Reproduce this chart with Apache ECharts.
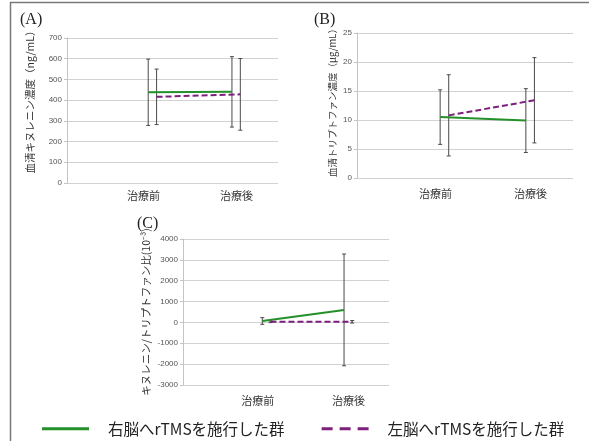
<!DOCTYPE html>
<html><head><meta charset="utf-8">
<script src="https://cdn.jsdelivr.net/npm/echarts@6/dist/echarts.min.js"></script>
<style>html,body{margin:0;padding:0;background:#fff}#c{width:589px;height:441px}</style>
</head><body><div id="c"></div>
<script>
// ---- data ----
const categories = ['治療前', '治療後'];
const seriesNames = ['右脳へrTMSを施行した群', '左脳へrTMSを施行した群'];
// (A) 血清キヌレニン濃度 (ng/mL)
const kynRightMean = [438, 440];
const kynRightSD   = [160, 170];
const kynLeftMean  = [416, 428];
const kynLeftSD    = [134, 173];
// (B) 血清トリプトファン濃度 (μg/mL)
const trpRightMean = [10.5, 9.9];
const trpRightSD   = [4.7, 5.5];
const trpLeftMean  = [10.8, 13.4];
const trpLeftSD    = [7.0, 7.35];
// (C) キヌレニン/トリプトファン比 (10^-3)
const ratioRightMean = [70, 600];
const ratioRightSD   = [160, 2680];
const ratioLeftMean  = [30, 30];
const ratioLeftSD    = [40, 60];
// axis ticks
const yAxisA = {min: 0, max: 700, interval: 100};
const yAxisB = {min: 0, max: 25, interval: 5};
const yAxisC = {min: -3000, max: 4000, interval: 1000};

// ---- styling ----
const GREEN = '#24902a';
const PURPLE = '#7d1f7d';
const LEFT_OFFSET = 0.1;     // horizontal shift of second group's markers
const LABEL_SPREAD = 0.055;  // category label spread
const CJK = 'Noto Sans CJK JP';

function pts(mean, off) { return mean.map((v, i) => [i + 1 + off, v]); }
function errs(mean, sd, off) { return mean.map((v, i) => [i + 1 + off, v - sd[i], v + sd[i]]); }

function errRender(params, api) {
  const x = api.value(0), lo = api.value(1), hi = api.value(2);
  const p1 = api.coord([x, hi]), p2 = api.coord([x, lo]);
  const w = 2;
  const st = {stroke: '#4a4a4a', lineWidth: 1};
  return {type: 'group', children: [
    {type: 'line', shape: {x1: p1[0], y1: p1[1], x2: p2[0], y2: p2[1]}, style: st},
    {type: 'line', shape: {x1: p1[0] - w, y1: p1[1], x2: p1[0] + w, y2: p1[1]}, style: st},
    {type: 'line', shape: {x1: p2[0] - w, y1: p2[1], x2: p2[0] + w, y2: p2[1]}, style: st}
  ]};
}

function xAxisFor(gi) {
  return {
    type: 'value', gridIndex: gi, min: 0.03, max: 2.55,
    axisLine: {show: false}, axisTick: {show: false}, splitLine: {show: false},
    axisLabel: {
      customValues: [1 - LABEL_SPREAD, 2 + LABEL_SPREAD],
      formatter: v => categories[Math.round(v) - 1] || '',
      fontSize: 11, color: '#333', fontFamily: CJK, margin: gi === 0 ? 7 : 10
    }
  };
}
function yAxisFor(gi, cfg, name, gap, fs, pad) {
  return {
    type: 'value', gridIndex: gi, min: cfg.min, max: cfg.max, interval: cfg.interval,
    axisLine: {show: true, lineStyle: {color: '#c4c4c4'}},
    axisTick: {show: true, length: 3, lineStyle: {color: '#c4c4c4'}},
    splitLine: {lineStyle: {color: '#d2d2d2'}},
    axisLabel: {fontSize: 8, color: '#555', fontFamily: 'Liberation Sans', margin: 5,
                formatter: v => String(v)},
    name: name, nameLocation: 'middle', nameRotate: 90, nameGap: gap,
    nameTextStyle: {fontSize: fs, color: '#333', fontFamily: CJK, padding: pad}
  };
}
function panelSeries(gi, rMean, rSD, lMean, lSD) {
  return [
    {type: 'custom', xAxisIndex: gi, yAxisIndex: gi, renderItem: errRender,
     encode: {x: 0, y: [1, 2]}, data: errs(rMean, rSD, 0), silent: true, z: 1},
    {type: 'custom', xAxisIndex: gi, yAxisIndex: gi, renderItem: errRender,
     encode: {x: 0, y: [1, 2]}, data: errs(lMean, lSD, LEFT_OFFSET), silent: true, z: 1},
    {type: 'line', name: seriesNames[0], xAxisIndex: gi, yAxisIndex: gi, data: pts(rMean, 0),
     symbol: 'none', color: GREEN, lineStyle: {color: GREEN, width: 2}, z: 3, animation: false},
    {type: 'line', name: seriesNames[1], xAxisIndex: gi, yAxisIndex: gi, data: pts(lMean, LEFT_OFFSET),
     symbol: 'none', color: PURPLE, lineStyle: {color: PURPLE, width: 2, type: [6, 3]}, z: 3, animation: false}
  ];
}

const chart = echarts.init(document.getElementById('c'), null, {renderer: 'canvas'});
const titleStyle = {fontSize: 16, fontWeight: 'normal', color: '#222', fontFamily: 'Liberation Serif'};
chart.setOption({
  animation: false,
  backgroundColor: '#fff',
  title: [
    {text: '(A)', left: 15, top: 7, textStyle: titleStyle},
    {text: '(B)', left: 309, top: 7, textStyle: titleStyle},
    {text: '(C)', left: 132, top: 211, textStyle: titleStyle}
  ],
  grid: [
    {left: 67, top: 38, width: 211, height: 145},
    {left: 357, top: 33, width: 216, height: 145},
    {left: 183, top: 239, width: 206, height: 146}
  ],
  xAxis: [xAxisFor(0), xAxisFor(1), xAxisFor(2)],
  yAxis: [
    yAxisFor(0, yAxisA, '血清キヌレニン濃度（ng/mL）', 32, 10.5, [0, 0, 0, 22]),
    yAxisFor(1, yAxisB, '血清トリプトファン濃度（μg/mL）', 20, 9.5, [0, 0, 0, 10]),
    yAxisFor(2, yAxisC, 'キヌレニン/トリプトファン比(10⁻³)', 32, 10.5, [0, 0, 0, 0])
  ],
  legend: {
    left: 37, top: 416, itemWidth: 47, itemHeight: 3, itemGap: 37,
    selectedMode: false,
    data: [
      {name: seriesNames[0], icon: 'rect'},
      {name: seriesNames[1], icon: 'path://M0,0H11V3H0ZM18,0H29V3H18ZM36,0H47V3H36Z'}
    ],
    textStyle: {fontSize: 15.5, color: '#222', fontFamily: CJK, padding: [0, 0, 0, 14]}
  },
  graphic: [
    {type: 'line', shape: {x1: 10, y1: 2.5, x2: 589, y2: 2.5}, style: {stroke: '#7a7a7a', lineWidth: 1.5}},
    {type: 'line', shape: {x1: 10.5, y1: 2, x2: 10.5, y2: 441}, style: {stroke: '#7a7a7a', lineWidth: 1.5}}
  ],
  series: [
    ...panelSeries(0, kynRightMean, kynRightSD, kynLeftMean, kynLeftSD),
    ...panelSeries(1, trpRightMean, trpRightSD, trpLeftMean, trpLeftSD),
    ...panelSeries(2, ratioRightMean, ratioRightSD, ratioLeftMean, ratioLeftSD)
  ]
});
</script></body></html>
